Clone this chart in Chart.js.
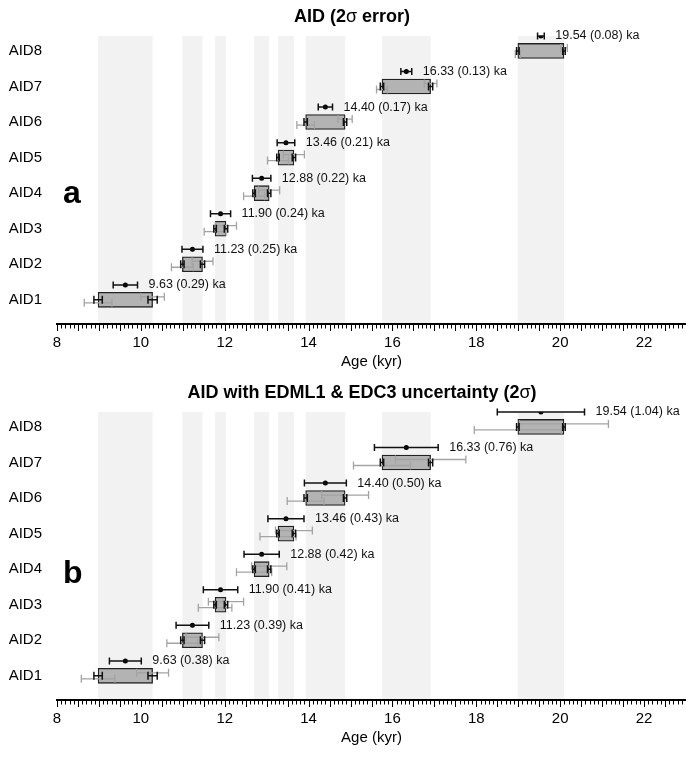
<!DOCTYPE html>
<html>
<head>
<meta charset="utf-8">
<script src="https://cdn.jsdelivr.net/npm/chart.js@4.4.0/dist/chart.umd.min.js"></script>
<style>
  body { margin: 0; background: #fff; }
  #wrap { position: relative; width: 686px; height: 758px; }
  canvas { position: absolute; left: 0; }
</style>
</head>
<body>
<div id="wrap">
  <canvas id="chartA" width="686" height="379" style="top:0"></canvas>
  <canvas id="chartB" width="686" height="379" style="top:376px"></canvas>
</div>
<script>
// event ages (kyr)
const categories = ["AID1", "AID2", "AID3", "AID4", "AID5", "AID6", "AID7", "AID8"];
const onsetAge = [8.98, 10.99, 11.77, 12.70, 13.27, 13.93, 15.75, 18.99];
const endAge = [10.28, 11.47, 12.03, 13.06, 13.65, 14.87, 16.91, 20.09];
const midAge = [9.63, 11.23, 11.90, 12.88, 13.46, 14.40, 16.33, 19.54];

// 2 sigma of the mid age, per panel
const midErrA = [0.29, 0.25, 0.24, 0.22, 0.21, 0.17, 0.13, 0.08];
const midErrB = [0.38, 0.39, 0.41, 0.42, 0.43, 0.50, 0.76, 1.04];

// black bars at box ends (same in both panels)
const onsetErrAID = [0.10, 0.04, 0.03, 0.03, 0.03, 0.04, 0.04, 0.03];
const endErrAID = [0.11, 0.05, 0.04, 0.04, 0.04, 0.04, 0.05, 0.03];

// grey whiskers at box ends
const onsetErrA = [0.33, 0.26, 0.26, 0.25, 0.25, 0.21, 0.13, 0.06];
const endErrA = [0.28, 0.25, 0.25, 0.25, 0.25, 0.17, 0.15, 0.08];
const onsetErrB = [0.40, 0.37, 0.40, 0.42, 0.43, 0.44, 0.68, 1.04];
const endErrB = [0.38, 0.39, 0.42, 0.42, 0.44, 0.56, 0.84, 1.06];

const xTicks = [8, 10, 12, 14, 16, 18, 20, 22];

const FONT = '"Liberation Sans", Arial, Helvetica, sans-serif';
const PT_OFFSET = 0.42; // mid point sits above the box

function errBar(ctx, x0, x1, y, cap, color, w) {
  ctx.strokeStyle = color;
  ctx.lineWidth = w;
  ctx.beginPath();
  ctx.moveTo(x0, y); ctx.lineTo(x1, y);
  ctx.moveTo(x0, y - cap / 2); ctx.lineTo(x0, y + cap / 2);
  ctx.moveTo(x1, y - cap / 2); ctx.lineTo(x1, y + cap / 2);
  ctx.stroke();
}

function decor(p) {
  return {
    id: "decor",
    beforeDraw(chart) {
      const { ctx, chartArea: a, scales: { x } } = chart;
      ctx.save();
      ctx.fillStyle = "#f2f2f2";
      for (let i = 0; i < categories.length; i++) {
        const x0 = x.getPixelForValue(onsetAge[i]);
        const x1 = x.getPixelForValue(endAge[i]);
        ctx.fillRect(x0, a.top, x1 - x0, a.bottom - a.top);
      }
      ctx.restore();
    },
    afterDatasetsDraw(chart) {
      const { ctx, chartArea: a, scales: { x, y } } = chart;
      ctx.save();
      for (let i = 0; i < categories.length; i++) {
        const yc = y.getPixelForValue(i + 1);
        // grey whiskers
        errBar(ctx, x.getPixelForValue(onsetAge[i] - p.onsetErr[i]), x.getPixelForValue(onsetAge[i] + p.onsetErr[i]), yc + 3, 8, "#a3a3a3", 1.3);
        errBar(ctx, x.getPixelForValue(endAge[i] - p.endErr[i]), x.getPixelForValue(endAge[i] + p.endErr[i]), yc - 3, 8, "#a3a3a3", 1.3);
        // black end bars
        errBar(ctx, x.getPixelForValue(onsetAge[i] - onsetErrAID[i]), x.getPixelForValue(onsetAge[i] + onsetErrAID[i]), yc, 8, "#111", 1.5);
        errBar(ctx, x.getPixelForValue(endAge[i] - endErrAID[i]), x.getPixelForValue(endAge[i] + endErrAID[i]), yc, 8, "#111", 1.5);
        // mid age bar + label
        const yp = y.getPixelForValue(i + 1 + PT_OFFSET);
        const xr = x.getPixelForValue(midAge[i] + p.midErr[i]);
        errBar(ctx, x.getPixelForValue(midAge[i] - p.midErr[i]), xr, yp, 7, "#111", 1.5);
        ctx.fillStyle = "#111";
        ctx.font = "12.5px " + FONT;
        ctx.textBaseline = "middle";
        ctx.textAlign = "left";
        ctx.fillText(midAge[i].toFixed(2) + " (" + p.midErr[i].toFixed(2) + ") ka", xr + 11, yp);
      }

      // ruler ticks on x axis
      ctx.strokeStyle = "#000";
      ctx.lineWidth = 1;
      ctx.beginPath();
      for (let t = Math.round(x.min * 10); t <= Math.round(x.max * 10); t++) {
        const px = Math.round(x.getPixelForValue(t / 10)) + 0.5;
        const len = t % 5 === 0 ? 6 : 3.5;
        ctx.moveTo(px, a.bottom);
        ctx.lineTo(px, a.bottom + 1 + len);
      }
      ctx.stroke();

      // axis title
      ctx.fillStyle = "#000";
      ctx.font = "15px " + FONT;
      ctx.textAlign = "center";
      ctx.textBaseline = "middle";
      ctx.fillText("Age (kyr)", (a.left + a.right) / 2, a.bottom + 38);

      // panel title (sigma in regular weight)
      let total = 0;
      const parts = p.title.map(([txt, w]) => {
        ctx.font = w + " 18px " + FONT;
        const wd = ctx.measureText(txt).width;
        total += wd;
        return [txt, w, wd];
      });
      let tx = p.titleX - total / 2;
      ctx.textAlign = "left";
      for (const [txt, w, wd] of parts) {
        ctx.font = w + " 18px " + FONT;
        ctx.fillText(txt, tx, 17);
        tx += wd;
      }

      // panel letter
      ctx.font = "bold 32px " + FONT;
      ctx.textBaseline = "alphabetic";
      ctx.fillText(p.letter, 63, p.letterY);
      ctx.restore();
    }
  };
}

function makePanel(id, p) {
  const ctx = document.getElementById(id).getContext("2d");
  return new Chart(ctx, {
    type: "bar",
    data: {
      datasets: [
        {
          type: "scatter",
          data: midAge.map((v, i) => ({ x: v, y: i + 1 + PT_OFFSET })),
          pointRadius: 2.5,
          pointBackgroundColor: "#000",
          pointBorderWidth: 0,
          order: 0
        },
        {
          type: "bar",
          indexAxis: "y",
          data: categories.map((c, i) => ({ x: [onsetAge[i], endAge[i]], y: i + 1 })),
          backgroundColor: "#b3b3b3",
          borderColor: "#222",
          borderWidth: 1.3,
          borderSkipped: false,
          barThickness: 15,
          order: 1
        }
      ]
    },
    options: {
      responsive: false,
      animation: false,
      events: [],
      layout: { autoPadding: false, padding: { top: 36, right: 0, bottom: 0, left: 0 } },
      plugins: { legend: { display: false }, tooltip: { enabled: false }, title: { display: false } },
      scales: {
        x: {
          type: "linear",
          position: "bottom",
          min: 8,
          max: 23,
          offset: false,
          beginAtZero: false,
          afterFit: (s) => { s.height = 55; },
          afterBuildTicks: (s) => { s.ticks = xTicks.map((v) => ({ value: v })); },
          grid: { display: false, drawTicks: false, offset: false },
          border: { display: true, color: "#000", width: 2 },
          ticks: { padding: 10, color: "#000", font: { family: FONT, size: 15 }, maxRotation: 0, autoSkip: false }
        },
        y: {
          type: "linear",
          position: "left",
          min: 0.32,
          max: 8.42,
          offset: false,
          beginAtZero: false,
          afterFit: (s) => { s.width = 57; },
          afterBuildTicks: (s) => { s.ticks = categories.map((c, i) => ({ value: i + 1 })); },
          grid: { display: false, drawTicks: false, offset: false },
          border: { display: false },
          ticks: { padding: 15, color: "#000", font: { family: FONT, size: 15 }, callback: (v) => categories[v - 1] }
        }
      }
    },
    plugins: [decor(p)]
  });
}

makePanel("chartA", {
  midErr: midErrA, onsetErr: onsetErrA, endErr: endErrA,
  title: [["AID (2", "bold"], ["\u03c3", "normal"], [" error)", "bold"]],
  titleX: 352, letter: "a", letterY: 203
});
makePanel("chartB", {
  midErr: midErrB, onsetErr: onsetErrB, endErr: endErrB,
  title: [["AID with EDML1 & EDC3 uncertainty (2", "bold"], ["\u03c3", "normal"], [")", "bold"]],
  titleX: 362, letter: "b", letterY: 207
});
</script>
</body>
</html>
